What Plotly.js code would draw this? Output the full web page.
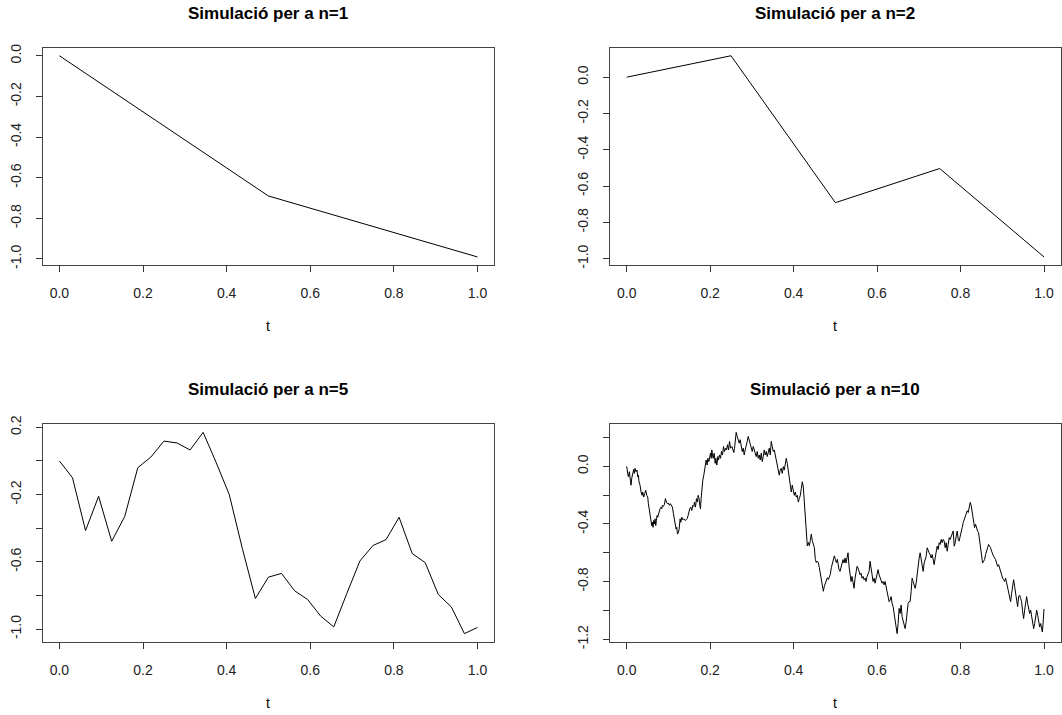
<!DOCTYPE html>
<html>
<head>
<meta charset="utf-8">
<script src="https://cdn.plot.ly/plotly-3.0.1.min.js"></script>
<style>html,body{margin:0;padding:0;background:#fff;}#chart{width:1062px;height:715px;}</style>
</head>
<body>
<div id="chart"></div>
<script>
// ---- data ----
const titles = ["Simulació per a n=1", "Simulació per a n=2", "Simulació per a n=5", "Simulació per a n=10"];

const t1 = [0, 0.5, 1];
const w1 = [0, -0.69, -0.99];

const t2 = [0, 0.25, 0.5, 0.75, 1];
const w2 = [0, 0.118, -0.691, -0.503, -0.99];

const t5 = [0,0.03125,0.0625,0.09375,0.125,0.15625,0.1875,0.21875,0.25,0.28125,0.3125,0.34375,0.375,0.40625,0.4375,0.46875,0.5,0.53125,0.5625,0.59375,0.625,0.65625,0.6875,0.71875,0.75,0.78125,0.8125,0.84375,0.875,0.90625,0.9375,0.96875,1];
const w5 = [0,-0.10,-0.414,-0.21,-0.478,-0.33,-0.04,0.023,0.118,0.107,0.065,0.17,-0.01,-0.20,-0.52,-0.818,-0.691,-0.669,-0.772,-0.824,-0.923,-0.987,-0.788,-0.595,-0.503,-0.468,-0.335,-0.55,-0.605,-0.794,-0.868,-1.027,-0.99];

// n=10 path in four stretches of t
const t10a = [0,0.0008,0.0024,0.0040,0.0064,0.0088,0.0104,0.0120,0.0144,0.0168,
0.0184,0.0200,0.0224,0.0248,0.0264,0.0280,0.0296,0.0320,0.0344,0.0368,
0.0384,0.0408,0.0432,0.0456,0.0480,0.0504,0.0520,0.0544,0.0568,0.0584,
0.0600,0.0616,0.0632,0.0648,0.0664,0.0680,0.0696,0.0712,0.0728,0.0744,
0.0760,0.0784,0.0800,0.0824,0.0840,0.0856,0.0880,0.0904,0.0928,0.0952,
0.0976,0.1000,0.1024,0.1048,0.1072,0.1096,0.1120,0.1144,0.1160,0.1184,
0.1200,0.1216,0.1240,0.1256,0.1280,0.1296,0.1320,0.1344,0.1368,0.1400,
0.1424,0.1448,0.1472,0.1488,0.1512,0.1536,0.1560,0.1584,0.1608,0.1624,
0.1648,0.1672,0.1696,0.1712,0.1736,0.1752,0.1768,0.1784,0.1800,0.1824,
0.1848,0.1864,0.1880,0.1904,0.1928,0.1944,0.1968,0.1992,0.2008,0.2024,
0.2040,0.2056,0.2072,0.2096,0.2120,0.2136,0.2160,0.2184,0.2200,0.2224,
0.2248,0.2272,0.2296,0.2320,0.2344,0.2368,0.2392,0.2416,0.2440,0.2464,
0.2488,0.2520];
const w10a = [0,-0.037,-0.049,-0.072,-0.037,-0.096,-0.131,-0.084,-0.061,-0.021,
-0.049,-0.014,-0.037,-0.026,-0.072,-0.061,-0.107,-0.131,-0.178,-0.201,
-0.178,-0.213,-0.189,-0.166,-0.201,-0.213,-0.259,-0.306,-0.341,-0.376,
-0.411,-0.388,-0.423,-0.376,-0.400,-0.364,-0.411,-0.376,-0.341,-0.353,
-0.329,-0.318,-0.294,-0.283,-0.294,-0.271,-0.278,-0.264,-0.224,-0.248,
-0.259,-0.255,-0.271,-0.259,-0.278,-0.283,-0.329,-0.364,-0.411,-0.435,
-0.423,-0.470,-0.458,-0.435,-0.364,-0.388,-0.353,-0.371,-0.364,-0.376,
-0.371,-0.364,-0.341,-0.318,-0.294,-0.283,-0.306,-0.271,-0.278,-0.248,
-0.283,-0.224,-0.248,-0.201,-0.224,-0.271,-0.294,-0.224,-0.154,-0.096,
-0.061,-0.026,0.021,0.044,0.009,0.056,0.033,0.068,0.091,0.056,
0.114,0.079,0.056,0.091,0.021,0.056,0.009,0.068,0.044,0.079,
0.056,0.103,0.079,0.138,0.103,0.126,0.114,0.150,0.114,0.173,
0.126,0.138];

const t10b = [0.2544,0.2568,0.2584,0.2608,0.2624,0.2648,0.2672,0.2696,0.2720,0.2744,
0.2768,0.2792,0.2816,0.2840,0.2864,0.2888,0.2912,0.2936,0.2960,0.2984,
0.3008,0.3032,0.3056,0.3080,0.3104,0.3128,0.3152,0.3176,0.3200,0.3224,
0.3248,0.3272,0.3296,0.3320,0.3344,0.3368,0.3392,0.3416,0.3440,0.3464,
0.3488,0.3512,0.3536,0.3560,0.3584,0.3608,0.3632,0.3656,0.3680,0.3704,
0.3728,0.3752,0.3776,0.3800,0.3824,0.3848,0.3872,0.3896,0.3920,0.3944,
0.3968,0.3992,0.4016,0.4040,0.4064,0.4088,0.4112,0.4136,0.4160,0.4184,
0.4208,0.4232,0.4256,0.4280,0.4304,0.4328,0.4352,0.4376,0.4400,0.4424,
0.4448,0.4472,0.4496,0.4520,0.4544,0.4568,0.4592,0.4616,0.4640,0.4664,
0.4688,0.4712,0.4736,0.4760,0.4784,0.4808,0.4832,0.4856,0.4880,0.4904,
0.4928,0.4952,0.4976,0.5000,0.5024,0.5048];
const w10b = [0.114,0.096,0.126,0.185,0.236,0.208,0.173,0.161,0.185,0.150,
0.103,0.126,0.079,0.114,0.138,0.173,0.208,0.185,0.150,0.126,
0.103,0.138,0.114,0.091,0.068,0.103,0.056,0.079,0.044,0.091,
0.033,0.068,0.114,0.079,0.103,0.068,0.091,0.126,0.079,0.173,
0.138,0.103,0.114,0.079,0.044,0.033,-0.014,-0.061,-0.026,-0.014,
-0.049,-0.002,-0.026,0.021,0.056,0.021,-0.026,-0.096,-0.154,-0.178,
-0.131,-0.166,-0.201,-0.178,-0.213,-0.201,-0.248,-0.224,-0.201,-0.154,
-0.107,-0.143,-0.259,-0.376,-0.470,-0.551,-0.528,-0.551,-0.516,-0.470,
-0.516,-0.551,-0.563,-0.645,-0.668,-0.657,-0.668,-0.703,-0.738,-0.773,
-0.820,-0.867,-0.832,-0.808,-0.785,-0.773,-0.785,-0.762,-0.750,-0.703,
-0.680,-0.645,-0.621,-0.645,-0.668,-0.645];

const t10c = [0.5064,0.5088,0.5112,0.5136,0.5160,0.5184,0.5208,0.5232,0.5256,0.5280,
0.5304,0.5328,0.5352,0.5376,0.5400,0.5424,0.5448,0.5472,0.5496,0.5520,
0.5544,0.5568,0.5592,0.5616,0.5640,0.5664,0.5688,0.5712,0.5736,0.5760,
0.5784,0.5808,0.5832,0.5856,0.5880,0.5904,0.5928,0.5952,0.5976,0.6000,
0.6024,0.6048,0.6072,0.6096,0.6120,0.6144,0.6168,0.6192,0.6216,0.6240,
0.6264,0.6288,0.6312,0.6336,0.6360,0.6384,0.6408,0.6432,0.6456,0.6480,
0.6504,0.6528,0.6552,0.6576,0.6600,0.6624,0.6648,0.6672,0.6696,0.6720,
0.6744,0.6768,0.6792,0.6816,0.6840,0.6864,0.6888,0.6912,0.6936,0.6960,
0.6984,0.7008,0.7032,0.7056,0.7080,0.7104,0.7128,0.7152,0.7176,0.7200,
0.7224,0.7248,0.7272,0.7296,0.7320,0.7344,0.7368,0.7392,0.7416,0.7440,
0.7464,0.7488,0.7512,0.7536,0.7560,0.7584,0.7608];
const w10c = [-0.694,-0.717,-0.729,-0.694,-0.671,-0.647,-0.671,-0.636,-0.671,-0.624,
-0.600,-0.694,-0.776,-0.799,-0.764,-0.811,-0.846,-0.776,-0.717,-0.694,
-0.706,-0.729,-0.752,-0.741,-0.776,-0.764,-0.787,-0.776,-0.799,-0.764,
-0.741,-0.729,-0.659,-0.694,-0.752,-0.799,-0.776,-0.811,-0.776,-0.741,
-0.717,-0.752,-0.776,-0.799,-0.811,-0.799,-0.822,-0.799,-0.834,-0.857,
-0.916,-0.939,-0.928,-0.904,-0.951,-0.974,-1.021,-1.079,-1.126,-1.161,
-1.091,-0.986,-1.021,-0.963,-1.044,-1.068,-1.091,-1.126,-1.079,-0.986,
-0.951,-0.939,-0.939,-0.869,-0.776,-0.799,-0.822,-0.846,-0.811,-0.741,
-0.671,-0.636,-0.600,-0.647,-0.682,-0.729,-0.671,-0.647,-0.624,-0.565,
-0.589,-0.600,-0.612,-0.636,-0.612,-0.647,-0.682,-0.636,-0.589,-0.554,
-0.577,-0.530,-0.542,-0.507,-0.530,-0.507,-0.519];

const t10d = [0.7632,0.7656,0.7680,0.7704,0.7728,0.7752,0.7776,0.7800,0.7824,0.7848,
0.7872,0.7896,0.7920,0.7944,0.7968,0.7992,0.8016,0.8040,0.8064,0.8088,
0.8112,0.8136,0.8160,0.8184,0.8208,0.8232,0.8256,0.8272,0.8296,0.8312,
0.8336,0.8360,0.8384,0.8408,0.8432,0.8456,0.8480,0.8504,0.8528,0.8552,
0.8576,0.8600,0.8624,0.8648,0.8672,0.8696,0.8720,0.8744,0.8768,0.8792,
0.8816,0.8840,0.8864,0.8888,0.8912,0.8936,0.8960,0.8984,0.9008,0.9032,
0.9056,0.9080,0.9104,0.9128,0.9152,0.9176,0.9200,0.9224,0.9248,0.9272,
0.9296,0.9320,0.9344,0.9368,0.9392,0.9416,0.9440,0.9464,0.9488,0.9512,
0.9536,0.9560,0.9584,0.9608,0.9632,0.9656,0.9680,0.9704,0.9728,0.9752,
0.9776,0.9800,0.9824,0.9848,0.9872,0.9896,0.9920,0.9940,0.9960,0.9975,
0.9988,1.0];
const w10d = [-0.565,-0.530,-0.589,-0.542,-0.495,-0.507,-0.484,-0.460,-0.449,-0.554,
-0.530,-0.484,-0.449,-0.507,-0.519,-0.484,-0.460,-0.425,-0.390,-0.367,
-0.343,-0.320,-0.308,-0.320,-0.285,-0.250,-0.273,-0.308,-0.343,-0.390,
-0.425,-0.402,-0.437,-0.449,-0.460,-0.507,-0.565,-0.624,-0.671,-0.659,
-0.647,-0.612,-0.589,-0.577,-0.542,-0.554,-0.565,-0.589,-0.612,-0.624,
-0.636,-0.647,-0.671,-0.694,-0.682,-0.706,-0.741,-0.764,-0.776,-0.787,
-0.799,-0.776,-0.811,-0.846,-0.881,-0.928,-0.939,-0.881,-0.822,-0.787,
-0.834,-0.881,-0.951,-0.974,-0.904,-0.893,-0.916,-0.939,-1.009,-1.056,
-0.998,-0.928,-0.904,-0.951,-0.986,-1.021,-0.998,-1.044,-1.091,-1.126,
-1.091,-1.033,-0.998,-1.033,-1.079,-1.114,-1.091,-1.138,-1.150,-1.100,
-1.035,-0.99];

const t10 = t10a.concat(t10b, t10c, t10d);
const w10 = w10a.concat(w10b, w10c, w10d);

const xTicks = [0, 0.2, 0.4, 0.6, 0.8, 1.0];
const xTickText = ["0.0", "0.2", "0.4", "0.6", "0.8", "1.0"];
const yTicks12 = [0, -0.2, -0.4, -0.6, -0.8, -1.0];
const yText12 = ["0.0", "-0.2", "-0.4", "-0.6", "-0.8", "-1.0"];
const yTicks5 = [0.2, 0, -0.2, -0.4, -0.6, -0.8, -1.0];
const yText5 = ["0.2", "", "-0.2", "", "-0.6", "", "-1.0"];
const yTicks10 = [0.2, 0, -0.2, -0.4, -0.6, -0.8, -1.0, -1.2];
const yText10 = ["", "0.0", "", "-0.4", "", "-0.8", "", "-1.2"];

// ---- layout helpers ----
const W = 1062, H = 715;
function padRange(a) {
  const mn = Math.min(...a), mx = Math.max(...a), d = (mx - mn) * 0.04;
  return [mn - d, mx + d];
}
const colL = [42.7 / W, 494.2 / W];
const colR = [610 / W, 1060.7 / W];
const row1 = [1 - 265 / H, 1 - 47.7 / H];
const row2 = [1 - 641.7 / H, 1 - 424.3 / H];

const fontFam = "Liberation Sans, Arial, sans-serif";
function xax(dom, anchor) {
  return {
    domain: dom, anchor: anchor, range: [-0.04, 1.04],
    tickvals: xTicks, ticktext: xTickText,
    ticks: "outside", ticklen: 6, tickwidth: 1, tickcolor: "#333",
    showline: true, mirror: true, linecolor: "#444", linewidth: 1,
    showgrid: false, zeroline: false, ticklabelstandoff: 9,
    tickfont: {family: fontFam, size: 14, color: "#222"}
  };
}
function yax(dom, anchor, rng, vals, text) {
  return {
    domain: dom, anchor: anchor, range: rng,
    tickvals: vals, ticktext: text, tickangle: -90,
    ticks: "outside", ticklen: 6, tickwidth: 1, tickcolor: "#333",
    showline: true, mirror: true, linecolor: "#444", linewidth: 1,
    showgrid: false, zeroline: false, ticklabelstandoff: 9,
    tickfont: {family: fontFam, size: 14, color: "#222"}
  };
}
const line = {color: "#000", width: 1};
const data = [
  {x: t1, y: w1, xaxis: "x", yaxis: "y", mode: "lines", line: line},
  {x: t2, y: w2, xaxis: "x2", yaxis: "y2", mode: "lines", line: line},
  {x: t5, y: w5, xaxis: "x3", yaxis: "y3", mode: "lines", line: line},
  {x: t10, y: w10, xaxis: "x4", yaxis: "y4", mode: "lines", line: line}
];
function ann(text, x, ypx, bold, size) {
  return {text: bold ? "<b>" + text + "</b>" : text, xref: "paper", yref: "paper",
    x: x, y: 1 - ypx / H, xanchor: "center", yanchor: "middle", showarrow: false,
    font: {family: fontFam, size: size, color: "#000"}};
}
const cL = (colL[0] + colL[1]) / 2, cR = (colR[0] + colR[1]) / 2;
const layout = {
  width: W, height: H, margin: {l: 0, r: 0, t: 0, b: 0},
  paper_bgcolor: "#fff", plot_bgcolor: "#fff", showlegend: false,
  xaxis: xax(colL, "y"), yaxis: yax(row1, "x", padRange(w1), yTicks12, yText12),
  xaxis2: xax(colR, "y2"), yaxis2: yax(row1, "x2", padRange(w2), yTicks12, yText12),
  xaxis3: xax(colL, "y3"), yaxis3: yax(row2, "x3", padRange(w5), yTicks5, yText5),
  xaxis4: xax(colR, "y4"), yaxis4: yax(row2, "x4", padRange(w10), yTicks10, yText10),
  annotations: [
    ann(titles[0], cL, 13.7, true, 17), ann(titles[1], cR, 13.7, true, 17),
    ann(titles[2], cL, 390, true, 17), ann(titles[3], cR, 390, true, 17),
    ann("t", cL, 326, false, 14), ann("t", cR, 326, false, 14),
    ann("t", cL, 703, false, 14), ann("t", cR, 703, false, 14)
  ]
};
Plotly.newPlot("chart", data, layout, {displayModeBar: false, staticPlot: true});
</script>
</body>
</html>
